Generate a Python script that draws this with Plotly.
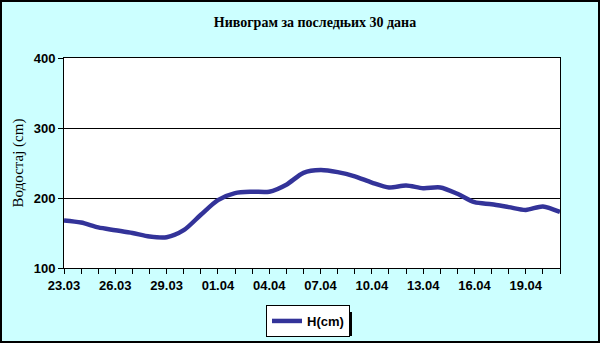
import plotly.graph_objects as go

dates = ["23.03", "24.03", "25.03", "26.03", "27.03", "28.03", "29.03", "30.03",
         "31.03", "01.04", "02.04", "03.04", "04.04", "05.04", "06.04", "07.04",
         "08.04", "09.04", "10.04", "11.04", "12.04", "13.04", "14.04", "15.04",
         "16.04", "17.04", "18.04", "19.04", "20.04", "21.04"]
levels = [168, 165, 158, 154, 150, 145, 144, 154, 176, 197, 207, 209, 209, 219,
          236, 240, 237, 231, 222, 215, 218, 214, 215, 206, 194, 191, 187, 183,
          188, 180]
yticks = [100, 200, 300, 400]
title = "Нивограм за последњих 30 дана"
ytitle = "Водостај (cm)"
series_name = "H(cm)"

W, H = 600, 343
L, R, T, B = 64, 40, 58, 75
pw, ph = W - L - R, H - T - B

xidx = list(range(len(dates)))
ticktext = [d if i % 3 == 0 else "" for i, d in enumerate(dates)]

fig = go.Figure()
fig.add_trace(go.Scatter(
    x=xidx, y=levels, mode="lines", name=series_name,
    line=dict(color="#333399", width=4.5, shape="spline", smoothing=0.8),
))

def px_x(p):
    return (p - L) / pw

def px_y(p):
    return (H - B - p) / ph

shapes = [
    # outer border
    dict(type="rect", xref="paper", yref="paper",
         x0=px_x(1), x1=px_x(W - 1), y0=px_y(H - 1), y1=px_y(1),
         line=dict(color="black", width=2), layer="below"),
    # legend shadow
    dict(type="rect", xref="paper", yref="paper",
         x0=px_x(270), x1=px_x(352), y0=px_y(336), y1=px_y(312),
         fillcolor="black", line=dict(width=0), layer="above"),
]

fig.update_layout(
    width=W, height=H,
    margin=dict(l=L, r=R, t=T, b=B, autoexpand=False),
    paper_bgcolor="#CCFFFF",
    plot_bgcolor="white",
    title=dict(text="<b>" + title + "</b>", xref="container", x=315 / W,
               xanchor="center", yref="container", y=1 - 22 / H, yanchor="middle",
               font=dict(family="Liberation Serif", size=14, color="black")),
    xaxis=dict(
        range=[0, len(dates) - 1], tickmode="array", tickvals=xidx,
        ticktext=ticktext, ticks="outside", ticklen=5, tickcolor="black",
        tickwidth=1, showgrid=False, zeroline=False, showline=True,
        linecolor="black", linewidth=1, mirror=True, tickangle=0,
        tickfont=dict(family="Liberation Sans", size=13, color="black", weight="bold"),
    ),
    yaxis=dict(
        range=[100, 400], tickmode="array", tickvals=yticks,
        ticks="outside", ticklen=5, tickcolor="black", tickwidth=1,
        showgrid=True, gridcolor="black", gridwidth=1, zeroline=False,
        showline=True, linecolor="black", linewidth=1, mirror=True,
        tickfont=dict(family="Liberation Sans", size=13, color="black", weight="bold"),
        title=dict(text=ytitle, standoff=6,
                   font=dict(family="Liberation Serif", size=15, color="black")),
    ),
    showlegend=True,
    legend=dict(
        xref="container", yref="container",
        x=308 / W, xanchor="center", y=1 - 321 / H, yanchor="middle",
        bgcolor="white", bordercolor="black", borderwidth=1,
        font=dict(family="Liberation Sans", size=13, color="black", weight="bold"),
        itemwidth=30, tracegroupgap=0,
    ),
    shapes=shapes,
)

fig.write_html("out.html")
